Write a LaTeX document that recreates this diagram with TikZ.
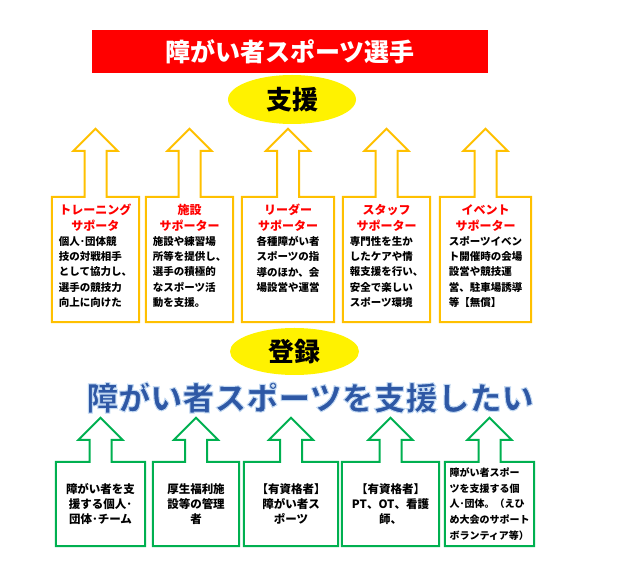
\documentclass[tikz,border=0pt]{standalone}
\usepackage{fontspec}
\setmainfont{Noto Sans CJK JP}
\usetikzlibrary{positioning,shapes.geometric}
\definecolor{ygold}{RGB}{255,192,0}
\definecolor{sgreen}{RGB}{0,176,80}
\definecolor{hiblue}{RGB}{46,88,165}
% light blue rim round the big letters
\newcommand{\rimtext}[1]{\special{pdf:literal direct 2 Tr 1.0 w 0.76 0.85 0.95 RG}#1\special{pdf:literal direct 0 Tr}}

\begin{document}
\begin{tikzpicture}[x=1pt,y=-1pt,
  ybox/.style={minimum height=125,inner sep=0pt},
  gbox/.style={minimum height=84,inner sep=0pt,align=center,
    font=\fontsize{11.5}{15}\selectfont\bfseries},
  ttl/.style={text=red,align=center,inner sep=0pt,
    font=\fontsize{12}{16}\selectfont\bfseries},
  bdy/.style={anchor=north,align=left,inner sep=0pt,
    font=\fontsize{10.5}{15.3}\selectfont\bfseries},
  ycall/.style={draw=ygold,line width=2pt},
  gcall/.style={draw=sgreen,line width=2pt}]
\useasboundingbox (0,0) rectangle (625,577);
\node[fill=red,text=white,minimum width=396,minimum height=43,inner sep=0pt,
  font=\fontsize{25}{25}\selectfont\bfseries] (title) at (290,51.5) {障がい者スポーツ選手};
\node[ellipse,fill=yellow,minimum width=128,minimum height=49,inner sep=0pt,
  font=\fontsize{26}{26}\selectfont\bfseries] (shien) at (292,99.5) {支援};
\node[ellipse,fill=yellow,minimum width=129,minimum height=47,inner sep=0pt,
  font=\fontsize{26}{26}\selectfont\bfseries] (toroku) at (294.5,351.5) {登録};
\node[text=hiblue,inner sep=0pt,font=\fontsize{32}{32}\selectfont\bfseries]
  (want) at (310,397.5) {\rimtext{障がい者スポーツを支援したい}};
% supporter boxes
\node[ybox,minimum width=87] (sup1) at (95.5,259.5) {};%training
\node[ybox,minimum width=87] (sup2) at (189.5,259.5) {};%facility
\node[ybox,minimum width=92] (sup3) at (288,259.5) {};%leader
\node[ybox,minimum width=87] (sup4) at (386.5,259.5) {};%staff
\node[ybox,minimum width=91] (sup5) at (485.5,259.5) {};%event
\node[ttl] (sup1t) at (95.5,218) {トレーニング\\サポータ};
\node[ttl] (sup2t) at (189.5,218) {施設\\サポーター};
\node[ttl] (sup3t) at (288,218) {リーダー\\サポーター};
\node[ttl] (sup4t) at (386.5,218) {スタッフ\\サポーター};
\node[ttl] (sup5t) at (485.5,218) {イベント\\サポーター};
\node[bdy] (sup1b) at (95.5,236) {個人･団体競\\技の対戦相手\\として協力し、\\選手の競技力\\向上に向けた};
\node[bdy] (sup2b) at (189.5,236) {施設や練習場\\所等を提供し、\\選手の積極的\\なスポーツ活\\動を支援。};
\node[bdy] (sup3b) at (288,236) {各種障がい者\\スポーツの指\\導のほか、会\\場設営や運営};
\node[bdy] (sup4b) at (386.5,236) {専門性を生か\\したケアや情\\報支援を行い、\\安全で楽しい\\スポーツ環境};
\node[bdy] (sup5b) at (485.5,236) {スポーツイベン\\ト開催時の会場\\設営や競技運\\営、駐車場誘導\\等【無償】};
\foreach \n in {sup1,sup2,sup3,sup4,sup5}
  \draw[ycall] (\n.south west) -- (\n.north west) -- ([xshift=-11pt]\n.north)
    -- ++(0,-46) -- ++(-11,0) -- ++(22,-22) -- ++(22,22) -- ++(-11,0)
    -- ++(0,46) -- (\n.north east) -- (\n.south east) -- cycle;
% registration boxes
\node[gbox,minimum width=89] (reg1) at (100.5,504) {障がい者を支\\援する個人･\\団体･チーム};
\node[gbox,minimum width=86] (reg2) at (196,504) {厚生福利施\\設等の管理\\者};
\node[gbox,minimum width=94] (reg3) at (291,504) {【有資格者】\\障がい者ス\\ポーツ};
\node[gbox,minimum width=97] (reg4) at (390.5,504) {【有資格者】\\PT、OT、看護\\師、};
\node[gbox,minimum width=89,align=left,font=\fontsize{10}{15.7}\selectfont\bfseries]
  (reg5) at (489.5,504) {障がい者スポー\\ツを支援する個\\人･団体。（えひ\\め大会のサポート\\ボランティア等）};
\foreach \n in {reg1,reg2,reg3,reg4,reg5}
  \draw[gcall] (\n.south west) -- (\n.north west) -- ([xshift=-11pt]\n.north)
    -- ++(0,-22) -- ++(-11,0) -- ++(22,-22) -- ++(22,22) -- ++(-11,0)
    -- ++(0,22) -- (\n.north east) -- (\n.south east) -- cycle;
\end{tikzpicture}
\end{document}
